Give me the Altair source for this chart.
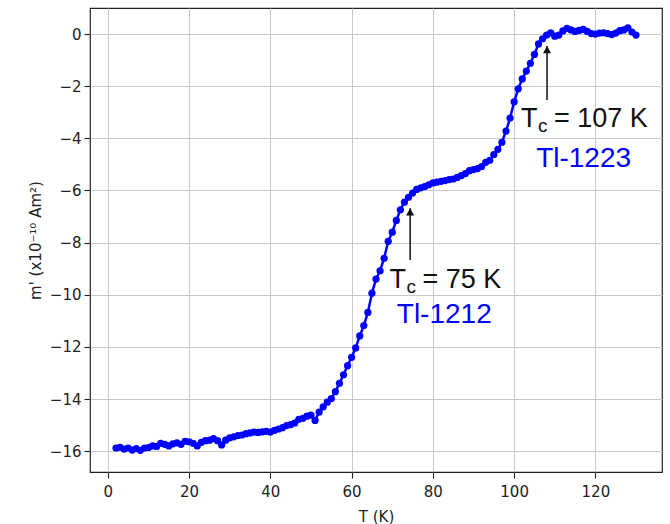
import altair as alt
import pandas as pd

# ---- data ----
temps = list(range(2, 131))
moment = [
    -15.88, -15.85, -15.92, -15.88, -15.96, -15.90, -15.97, -15.88, -15.86,   # 2-10
    -15.80, -15.82, -15.70, -15.74, -15.80, -15.72, -15.68, -15.74, -15.62, -15.64,  # 11-20
    -15.70, -15.80, -15.66, -15.60, -15.58, -15.52, -15.60, -15.76, -15.58, -15.49,  # 21-30
    -15.45, -15.40, -15.38, -15.33, -15.30, -15.27, -15.28, -15.26, -15.24, -15.27,  # 31-40
    -15.20, -15.15, -15.10, -15.02, -14.98, -14.92, -14.78, -14.74, -14.66, -14.62,  # 41-50
    -14.82, -14.50, -14.30, -14.12, -13.98, -13.72, -13.40, -13.07, -12.72, -12.40,  # 51-60
    -12.04, -11.58, -11.18, -10.68, -9.94, -9.40, -9.08, -8.60, -7.95, -7.60,        # 61-70
    -7.15, -6.74, -6.45, -6.26, -6.10, -5.96, -5.90, -5.85, -5.78, -5.71,            # 71-80
    -5.68, -5.65, -5.62, -5.58, -5.56, -5.50, -5.43, -5.35, -5.24, -5.20,            # 81-90
    -5.16, -5.08, -4.92, -4.84, -4.62, -4.42, -4.15, -3.72, -3.22, -2.60,            # 91-100
    -2.10, -1.72, -1.42, -1.12, -0.78, -0.38, -0.18, -0.04, 0.05, -0.08,             # 101-110
    -0.04, 0.12, 0.22, 0.16, 0.10, 0.14, 0.18, 0.10, 0.02, 0.00,                     # 111-120
    0.04, 0.05, 0.02, -0.02, 0.04, 0.13, 0.16, 0.24, 0.08, -0.04,                    # 121-130
]

x_ticks = [0, 20, 40, 60, 80, 100, 120]
y_ticks = [-16, -14, -12, -10, -8, -6, -4, -2, 0]

# annotations
ann_text_x = [69.3, 101.7]      # left edge of "Tc = ..." label
ann_text_y = [-9.75, -3.58]     # baseline
ann_rest = ["= 75 K", "= 107 K"]
ann_name_x = [82.8, 117.1]
ann_name_y = [-11.07, -5.09]
ann_names = ["Tl-1212", "Tl-1223"]
arrow_x = [74.4, 108.1]
arrow_tail = [-8.67, -2.53]
arrow_tip = [-6.68, -0.46]

df = pd.DataFrame({"T": temps, "m": moment})
ann = pd.DataFrame({
    "tx": ann_text_x, "ty": ann_text_y, "rest": ann_rest,
    "nx": ann_name_x, "ny": ann_name_y, "name": ann_names,
    "ax": arrow_x, "atail": arrow_tail, "atip": arrow_tip,
})
ann["T_letter"] = "T"
ann["c_letter"] = "c"

xs = alt.Scale(domain=[-4.4, 136.4], nice=False, zero=False)
ys = alt.Scale(domain=[-16.8, 1.0], nice=False, zero=False)

x_enc = alt.X("T:Q", scale=xs, title="T (K)",
              axis=alt.Axis(values=x_ticks, format="d", labelFlush=False,
                            labelPadding=6, titlePadding=10))
y_enc = alt.Y("m:Q", scale=ys, title="m' (x10⁻¹⁰ Am²)",
              axis=alt.Axis(values=y_ticks, format="d", labelFlush=False,
                            labelPadding=3, titlePadding=6))

blue = "#0000ff"
line = alt.Chart(df).mark_line(color=blue, strokeWidth=2.5).encode(x=x_enc, y=y_enc)
pts = alt.Chart(df).mark_circle(color=blue, size=52, opacity=1).encode(x="T:Q", y="m:Q")

base_ann = alt.Chart(ann)
fnt = "Liberation Sans"
t_main = base_ann.mark_text(align="left", baseline="alphabetic", font=fnt, fontSize=27,
                            color="#111").encode(x="tx:Q", y="ty:Q", text="T_letter:N")
t_sub = base_ann.mark_text(align="left", baseline="alphabetic", font=fnt, fontSize=19,
                           color="#111", dx=17, dy=5).encode(x="tx:Q", y="ty:Q", text="c_letter:N")
t_rest = base_ann.mark_text(align="left", baseline="alphabetic", font=fnt, fontSize=27,
                            color="#111", dx=33).encode(x="tx:Q", y="ty:Q", text="rest:N")
t_name = base_ann.mark_text(align="center", baseline="alphabetic", font=fnt, fontSize=28,
                            color=blue).encode(x="nx:Q", y="ny:Q", text="name:N")
shaft = base_ann.mark_rule(color="#111", strokeWidth=1.5).encode(x="ax:Q", y="atail:Q", y2="atip:Q")
head = base_ann.mark_point(shape="M0,0L-1,1.8L1,1.8Z", filled=True, color="#111",
                           size=64, opacity=1).encode(x="ax:Q", y="atip:Q")

chart = alt.layer(line, pts, shaft, head, t_main, t_sub, t_rest, t_name).properties(
    width=572, height=464,
    background="white",
    autosize=alt.AutoSizeParams(type="none"),
    padding={"left": 90, "top": 8, "right": 8, "bottom": 52},
).configure_view(
    stroke="#222", strokeWidth=1.2
).configure_axis(
    grid=True, gridColor="#c8c8c8", gridWidth=1, domain=False,
    tickColor="#222", tickSize=6, tickWidth=1.1,
    labelFont="DejaVu Sans", labelFontSize=15, labelColor="#222",
    titleFont="DejaVu Sans", titleFontSize=15, titleFontWeight="normal", titleColor="#222",
)

chart.save("out.html", embed_options={"renderer": "svg", "actions": False})
